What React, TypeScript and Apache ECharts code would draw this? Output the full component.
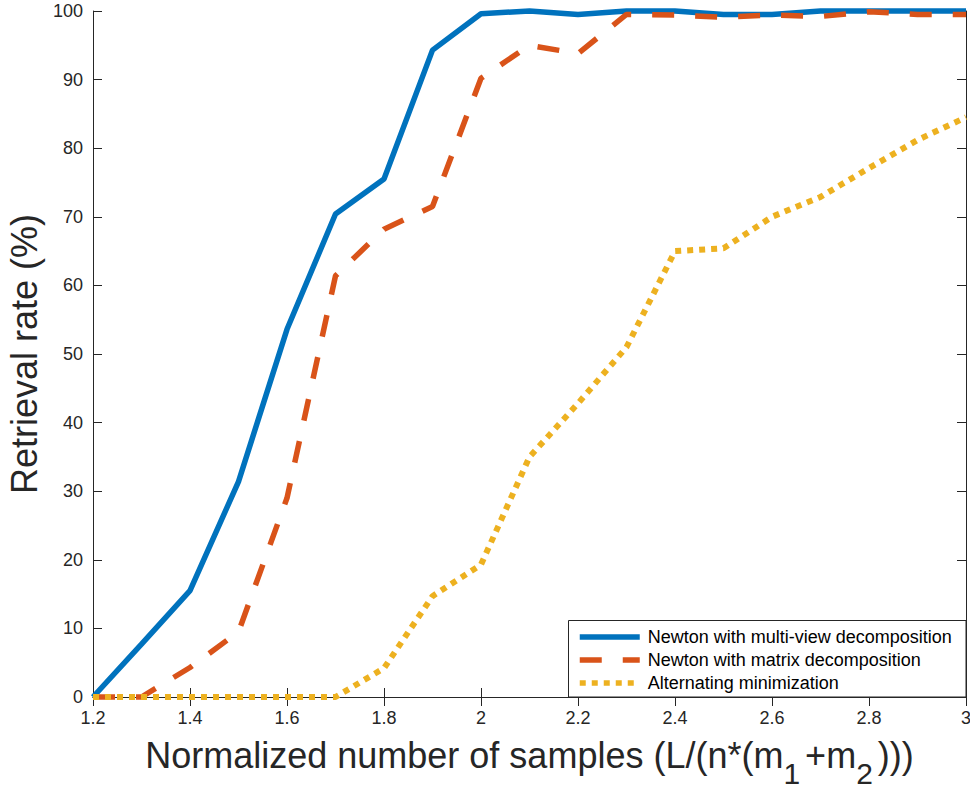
import React, { useEffect, useRef } from "react";
import * as echarts from "echarts";

const xs = [1.2, 1.3, 1.4, 1.5, 1.6, 1.7, 1.8, 1.9, 2.0, 2.1, 2.2, 2.3, 2.4, 2.5, 2.6, 2.7, 2.8, 2.9, 3.0];
const multiView = [0, 7.7, 15.5, 31.4, 53.6, 70.4, 75.5, 94.3, 99.6, 100, 99.5, 100, 100, 99.5, 99.5, 100, 100, 100, 100];
const matrixDecomp = [0, 0, 4.3, 9.5, 29, 61.4, 68.2, 71.5, 90.2, 95, 93.8, 99.5, 99.4, 99.1, 99.4, 99.2, 99.9, 99.5, 99.5];
const altMin = [0, 0, 0, 0, 0, 0, 4.2, 14.7, 19.3, 35, 42.8, 51, 65, 65.4, 70, 72.9, 77.1, 81.2, 84.5];
const seriesNames = [
  "Newton with multi-view decomposition",
  "Newton with matrix decomposition",
  "Alternating minimization",
];

const FONT = "'Liberation Sans', Arial, Helvetica, sans-serif";
const AXIS_COLOR = "#262626";

export default function App() {
  const ref = useRef<HTMLDivElement>(null);
  useEffect(() => {
    if (!ref.current) return;
    const chart = echarts.init(ref.current, undefined, { renderer: "svg" });
    const pair = (vals: number[]) => xs.map((x, i) => [x, vals[i]]);
    const fmt = (v: number) => String(parseFloat(v.toFixed(1)));
    const axisLine = { show: true, lineStyle: { color: AXIS_COLOR, width: 1 } };
    const axisTick = { show: true, inside: true, length: 9, lineStyle: { color: AXIS_COLOR, width: 1 } };
    chart.setOption({
      animation: false,
      backgroundColor: "#ffffff",
      grid: { left: 93, right: 4, top: 11, bottom: 93, containLabel: false, outerBoundsMode: "none" },
      xAxis: [
        {
          type: "value",
          min: 1.2,
          max: 3,
          interval: 0.2,
          position: "bottom",
          axisLine,
          axisTick,
          splitLine: { show: false },
          axisLabel: { fontSize: 18, color: AXIS_COLOR, fontFamily: FONT, margin: 12, formatter: fmt },
          name: "{n|Normalized number of samples (L/(n*(m}{s|1}{n|+m}{s|2}{n|)))}",
          nameLocation: "middle",
          nameGap: 40,
          nameTextStyle: {
            fontSize: 36,
            color: AXIS_COLOR,
            fontFamily: FONT,
            rich: {
              n: { fontSize: 36, color: AXIS_COLOR, fontFamily: FONT, verticalAlign: "top" },
              s: { fontSize: 30, color: AXIS_COLOR, fontFamily: FONT, verticalAlign: "top", padding: [21, 5, 0, 0] },
            },
          },
        },
        {
          type: "value",
          min: 1.2,
          max: 3,
          interval: 0.2,
          position: "top",
          axisLine,
          axisTick,
          splitLine: { show: false },
          axisLabel: { show: false },
        },
      ],
      yAxis: [
        {
          type: "value",
          min: 0,
          max: 100,
          interval: 10,
          position: "left",
          axisLine,
          axisTick,
          splitLine: { show: false },
          axisLabel: { fontSize: 18, color: AXIS_COLOR, fontFamily: FONT, margin: 10 },
          name: "Retrieval rate (%)",
          nameLocation: "middle",
          nameGap: 48,
          nameTextStyle: { fontSize: 36, color: AXIS_COLOR, fontFamily: FONT },
        },
        {
          type: "value",
          min: 0,
          max: 100,
          interval: 10,
          position: "right",
          axisLine,
          axisTick,
          splitLine: { show: false },
          axisLabel: { show: false },
        },
      ],
      legend: {
        data: seriesNames,
        orient: "vertical",
        left: 577,
        top: 628,
        padding: 0,
        itemWidth: 60,
        itemHeight: 14,
        itemGap: 5,
        z: 5,
        itemStyle: { opacity: 0 },
        lineStyle: { width: 5.5 },
        textStyle: { fontSize: 18, color: "#000000", fontFamily: FONT, padding: [0, 0, 0, 3] },
      },
      graphic: [
        {
          type: "rect",
          z: 4,
          shape: { x: 568.5, y: 620.5, width: 397.5, height: 76.5 },
          style: { fill: "#ffffff", stroke: AXIS_COLOR, lineWidth: 1 },
        },
      ],
      series: [
        {
          name: seriesNames[0],
          type: "line",
          data: pair(multiView),
          symbol: "none",
          clip: false,
          lineStyle: { color: "#0072BD", width: 5.5, type: "solid" },
          itemStyle: { color: "#0072BD" },
        },
        {
          name: seriesNames[1],
          type: "line",
          data: pair(matrixDecomp),
          symbol: "none",
          clip: false,
          lineStyle: { color: "#D95319", width: 5.5, type: [22, 21], cap: "butt" },
          itemStyle: { color: "#D95319" },
        },
        {
          name: seriesNames[2],
          type: "line",
          data: pair(altMin),
          symbol: "none",
          clip: false,
          lineStyle: { color: "#EDB120", width: 6, type: [6, 6], cap: "butt" },
          itemStyle: { color: "#EDB120" },
        },
      ],
    });
    return () => chart.dispose();
  }, []);
  return (
    <div
      ref={ref}
      style={{ position: "fixed", left: 0, top: 0, width: 970, height: 790, background: "#fff" }}
    />
  );
}
